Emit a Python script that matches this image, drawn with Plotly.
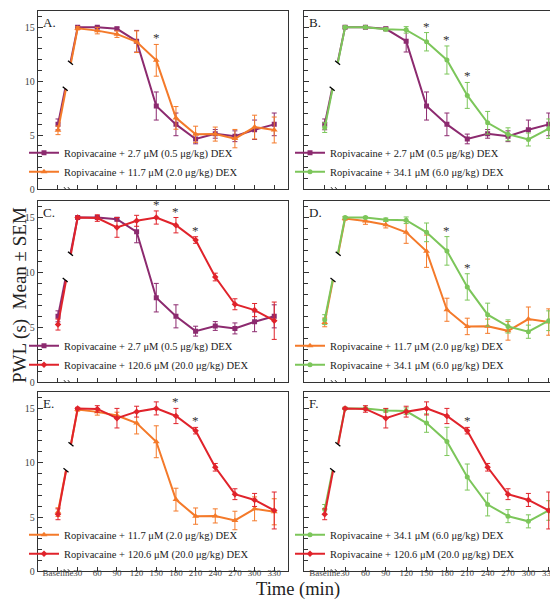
import plotly.graph_objects as go

# ---------------- data ----------------
TIME_LABELS = ["Baseline", "30", "60", "90", "120", "150", "180", "210", "240", "270", "300", "330"]
TIMES = [0, 30, 60, 90, 120, 150, 180, 210, 240, 270, 300, 330]

DEX05_NAME = "Ropivacaine + 2.7 μM (0.5 μg/kg) DEX"
DEX05_MEAN = [6.0, 15.0, 15.0, 14.85, 13.7, 7.7, 6.0, 4.65, 5.12, 4.9, 5.5, 6.0]
DEX05_SEM = [0.5, 0.1, 0.1, 0.15, 1.0, 1.3, 1.05, 0.45, 0.4, 0.5, 0.9, 1.05]

DEX20_NAME = "Ropivacaine + 11.7 μM (2.0 μg/kg) DEX"
DEX20_MEAN = [5.45, 14.9, 14.68, 14.35, 13.65, 11.93, 6.6, 5.08, 5.1, 4.68, 5.75, 5.48]
DEX20_SEM = [0.4, 0.15, 0.3, 0.3, 1.0, 1.47, 1.05, 0.75, 0.65, 0.85, 1.1, 1.2]

DEX60_NAME = "Ropivacaine + 34.1 μM (6.0 μg/kg) DEX"
DEX60_MEAN = [5.7, 15.0, 15.0, 14.8, 14.75, 13.65, 11.96, 8.68, 6.15, 5.08, 4.6, 5.6]
DEX60_SEM = [0.45, 0.1, 0.1, 0.15, 0.3, 0.85, 1.3, 1.2, 1.05, 0.6, 0.6, 0.9]

DEX200_NAME = "Ropivacaine + 120.6 μM (20.0 μg/kg) DEX"
DEX200_MEAN = [5.25, 15.0, 14.95, 14.1, 14.7, 15.0, 14.3, 12.95, 9.58, 7.1, 6.57, 5.6]
DEX200_SEM = [0.5, 0.1, 0.3, 0.9, 0.5, 0.6, 0.7, 0.3, 0.35, 0.5, 0.6, 1.7]

PANEL_LETTERS = ["A.", "B.", "C.", "D.", "E.", "F."]
PANEL_PAIRS = [("d05", "d20"), ("d05", "d60"), ("d05", "d200"),
               ("d20", "d60"), ("d20", "d200"), ("d60", "d200")]
PANEL_STARS = [[150], [150, 180, 210], [150, 180, 210], [180, 210], [180, 210], [210]]

# axis break levels on the baseline -> 30 min connector
BREAK_LO = 9.3
BREAK_HI = 11.7

# ---------------- styles ----------------
SERIES = {
    "d05": dict(name=DEX05_NAME, mean=DEX05_MEAN, sem=DEX05_SEM, color="#8c2a6f", symbol="square", size=5),
    "d20": dict(name=DEX20_NAME, mean=DEX20_MEAN, sem=DEX20_SEM, color="#f47a2a", symbol="triangle-up", size=6),
    "d60": dict(name=DEX60_NAME, mean=DEX60_MEAN, sem=DEX60_SEM, color="#7cc65a", symbol="circle", size=5),
    "d200": dict(name=DEX200_NAME, mean=DEX200_MEAN, sem=DEX200_SEM, color="#e0232b", symbol="diamond", size=5),
}

W, H = 558, 599
FONT = "Liberation Serif"
COLS = [(30, 280), (296, 555)]
ROWS = [(3, 183), (195, 378), (388, 569)]
XR = [-30.5, 351]
YR = [0, 16.5]


def px(xp):
    return xp / W


def py(yp):
    return 1 - yp / H


fig = go.Figure()
layout = dict(
    width=W, height=H, margin=dict(l=0, r=0, t=0, b=0),
    paper_bgcolor="white", plot_bgcolor="white",
    font=dict(family=FONT, color="#333"),
    showlegend=True,
)
shapes = []
annotations = []

for i in range(6):
    r, c = divmod(i, 2)
    sfx = "" if i == 0 else str(i + 1)
    xa, ya = "x" + sfx, "y" + sfx
    leg = "legend" + sfx
    x0, x1 = COLS[c]
    y0, y1 = ROWS[r]
    axis_common = dict(
        showline=True, linecolor="#333", linewidth=1.3, mirror=True,
        ticks="inside", tickcolor="#333", tickwidth=1, showgrid=False, zeroline=False,
    )
    layout["xaxis" + sfx] = dict(
        axis_common, domain=[px(x0), px(x1)], range=XR, anchor=ya,
        tickmode="array", tickvals=TIMES, ticktext=TIME_LABELS, ticklen=4,
        tickangle=0, tickfont=dict(family=FONT, size=9, color="#444"),
        ticklabelstandoff=-7,
        showticklabels=(r == 2),
    )
    layout["yaxis" + sfx] = dict(
        axis_common, domain=[py(y1), py(y0)], range=YR, anchor=xa,
        tickmode="array", tickvals=[0, 5, 10, 15], ticklen=5,
        tickfont=dict(family=FONT, size=10, color="#444"),
        minor=dict(ticks="inside", tickvals=list(range(0, 17)), ticklen=4, tickcolor="#333"),
        showticklabels=(c == 0),
    )
    layout[leg] = dict(
        x=px(x0 - 14), y=py(y1 - 3), xanchor="left", yanchor="bottom",
        bgcolor="rgba(0,0,0,0)", itemwidth=30, tracegroupgap=0,
        font=dict(family=FONT, size=10.5, color="#222"),
    )

    for k, key in enumerate(PANEL_PAIRS[i]):
        s = SERIES[key]
        m, e = s["mean"], s["sem"]
        b, v = m[0], m[1]
        xlo = TIMES[1] * (BREAK_LO - b) / (v - b)
        xhi = TIMES[1] * (BREAK_HI - b) / (v - b)
        lx = [TIMES[0], xlo, None, xhi] + TIMES[1:]
        ly = [b, BREAK_LO, None, BREAK_HI] + m[1:]
        fig.add_trace(go.Scatter(
            x=lx, y=ly, mode="lines", line=dict(color=s["color"], width=2),
            xaxis=xa, yaxis=ya, showlegend=False, hoverinfo="skip",
        ))
        fig.add_trace(go.Scatter(
            x=TIMES, y=m, mode="markers",
            marker=dict(color=s["color"], symbol=s["symbol"], size=s["size"]),
            error_y=dict(type="data", array=e, color=s["color"], thickness=1, width=2.5),
            xaxis=xa, yaxis=ya, showlegend=False,
        ))
        # legend entry
        fig.add_trace(go.Scatter(
            x=[None], y=[None], mode="lines+markers", name=s["name"],
            line=dict(color=s["color"], width=2),
            marker=dict(color=s["color"], symbol=s["symbol"], size=s["size"]),
            xaxis=xa, yaxis=ya, legend=leg, showlegend=True,
        ))
        if k == 0:
            for (bx, by) in [(xlo, BREAK_LO), (xhi, BREAK_HI)]:
                shapes.append(dict(
                    type="line", xref=xa, yref=ya, xsizemode="pixel", ysizemode="pixel",
                    xanchor=bx, yanchor=by, x0=-2.5, x1=2.5, y0=2, y1=-2,
                    line=dict(color="black", width=1.3),
                ))

    # x-axis break marks
    for bxm in (13, 19):
        shapes.append(dict(
            type="line", xref=xa, yref=ya, xsizemode="pixel", ysizemode="pixel",
            xanchor=bxm, yanchor=0, x0=-2.5, x1=2.5, y0=2, y1=-4,
            line=dict(color="#222", width=1),
        ))

    # significance stars
    for t in PANEL_STARS[i]:
        j = TIMES.index(t)
        top = max(SERIES[k]["mean"][j] + SERIES[k]["sem"][j] for k in PANEL_PAIRS[i])
        annotations.append(dict(
            x=t, y=top, xref=xa, yref=ya, text="*", showarrow=False,
            yanchor="bottom", yshift=-3, font=dict(family=FONT, size=13, color="#333"),
        ))

    annotations.append(dict(
        x=px(x0 + 3), y=py(y0 + 2), xref="paper", yref="paper", text=PANEL_LETTERS[i],
        showarrow=False, xanchor="left", yanchor="top",
        font=dict(family=FONT, size=13, color="#222"),
    ))

annotations.append(dict(
    x=px(12), y=py(290), xref="paper", yref="paper", text="PWL (s)\u00a0\u00a0Mean ± SEM",
    textangle=-90, showarrow=False, xanchor="center", yanchor="middle",
    font=dict(family=FONT, size=19, color="#222"),
))
annotations.append(dict(
    x=px(290), y=py(587), xref="paper", yref="paper", text="Time (min)",
    showarrow=False, xanchor="center", yanchor="middle",
    font=dict(family=FONT, size=18.5, color="#222"),
))

layout["shapes"] = shapes
layout["annotations"] = annotations
fig.update_layout(**layout)
fig.write_html("out.html")
